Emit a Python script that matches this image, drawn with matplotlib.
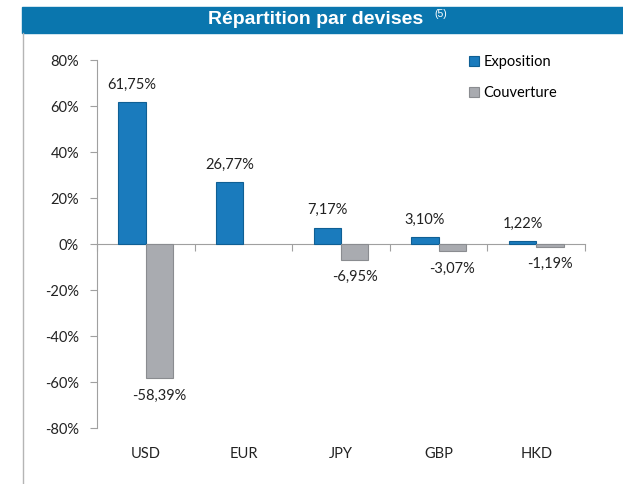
import matplotlib.pyplot as plt
import numpy as np
from matplotlib.patches import Rectangle

devises = ['USD', 'EUR', 'JPY', 'GBP', 'HKD']
exposition = [61.75, 26.77, 7.17, 3.10, 1.22]
couverture = [-58.39, 0.0, -6.95, -3.07, -1.19]
lbl_expo = ['61,75%', '26,77%', '7,17%', '3,10%', '1,22%']
lbl_couv = ['-58,39%', None, '-6,95%', '-3,07%', '-1,19%']
yticks = [-80, -60, -40, -20, 0, 20, 40, 60, 80]

blue = '#1a7bbd'
blue_dk = '#0f5f94'
grey = '#a9abb0'
grey_dk = '#8a8c90'

fig = plt.figure(figsize=(6.23, 4.84), dpi=100)
fig.patch.set_facecolor('white')

# bandeau du titre
fig.patches.append(Rectangle((22 / 623, 1 - 33 / 484), 1, 26 / 484,
                             transform=fig.transFigure, color='#0a76ae', zorder=0))
fig.text(316 / 623, 1 - 20 / 484, 'Répartition par devises', color='white', fontsize=14,
         fontweight='bold', family='Liberation Sans', ha='center', va='center')
fig.text(434 / 623, 1 - 14 / 484, '(5)', color='white', fontsize=7.5,
         family='Liberation Sans', ha='left', va='center')
# trait vertical gauche
fig.add_artist(plt.Line2D([22.5 / 623, 22.5 / 623], [0, 1 - 33 / 484],
                          transform=fig.transFigure, color='#b5b5b5', lw=1))

ax = fig.add_axes([97 / 623, 56 / 484, 488 / 623, 368 / 484])
x = np.arange(len(devises))
w = 0.28
b1 = ax.bar(x - w / 2, exposition, w, color=blue, edgecolor=blue_dk, linewidth=0.8,
            label='Exposition', zorder=3)
b2 = ax.bar(x + w / 2, couverture, w, color=grey, edgecolor=grey_dk,
            linewidth=[0.8 if v != 0 else 0 for v in couverture],
            label='Couverture', zorder=3)

fnt = 'Lato'
for i in range(len(devises)):
    ax.text(x[i] - w / 2, exposition[i] + 4.5, lbl_expo[i], ha='center', va='bottom',
            fontsize=10.5, family=fnt, color='#222222')
    if lbl_couv[i]:
        ax.text(x[i] + w / 2, couverture[i] - 4.5, lbl_couv[i], ha='center', va='top',
                fontsize=10.5, family=fnt, color='#222222')

ax.set_xlim(-0.5, len(devises) - 0.5)
ax.set_ylim(-80, 80)
ax.set_yticks(yticks)
ax.set_yticklabels([f'{v}%' for v in yticks], family=fnt, fontsize=10.5, color='#222222')
ax.tick_params(axis='y', length=5, color='#a0a0a0', pad=8)

ax.spines['top'].set_visible(False)
ax.spines['right'].set_visible(False)
ax.spines['left'].set_color('#a0a0a0')
ax.spines['bottom'].set_position(('data', 0))
ax.spines['bottom'].set_color('#a0a0a0')
ax.set_xticks(np.arange(len(devises) + 1) - 0.5)
ax.set_xticklabels([])
ax.tick_params(axis='x', length=5, color='#a0a0a0', direction='out')

for i, d in enumerate(devises):
    ax.text(x[i], -0.07, d, transform=ax.get_xaxis_transform(), ha='center', va='center',
            fontsize=10.5, family=fnt, color='#222222')

leg = ax.legend(loc='upper left', bbox_to_anchor=(0.735, 1.05), frameon=False,
                prop={'family': fnt, 'size': 10.5}, handlelength=0.7, handleheight=0.7,
                handletextpad=0.3, labelspacing=1.2)

fig.savefig('out.png', dpi=100)
